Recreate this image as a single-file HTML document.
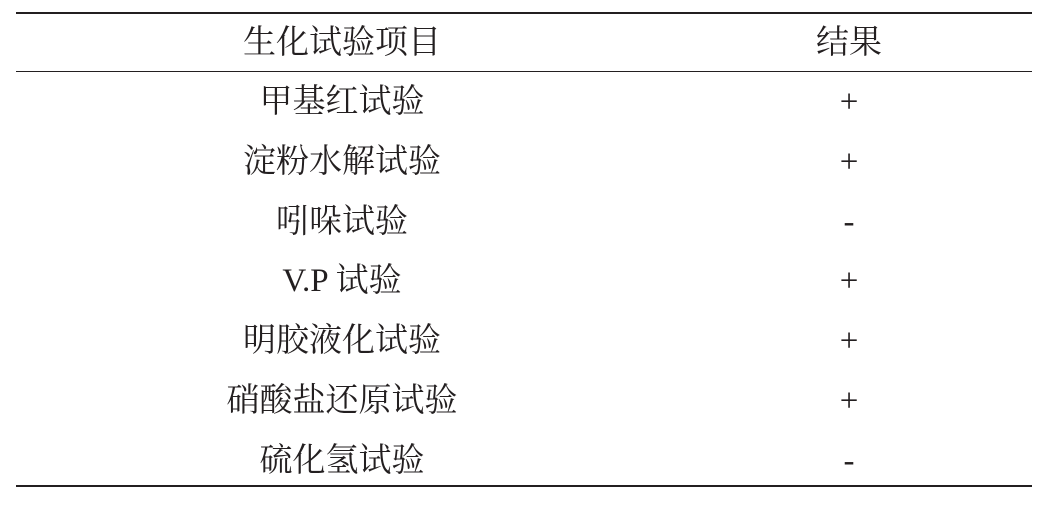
<!DOCTYPE html>
<html><head><meta charset="utf-8"><style>
html,body{margin:0;padding:0;background:#fff;}
body{width:1056px;height:506px;position:relative;overflow:hidden;font-family:"Liberation Serif","Noto Serif CJK SC",serif;color:#231f20;}
.l{position:absolute;left:16px;width:1016px;background:#231f20;}
.t{position:absolute;font-size:33px;line-height:40px;height:40px;text-align:center;white-space:nowrap;}
.c1{left:142px;width:400px;}
.c2{left:749px;width:200px;}
</style></head><body>
<div class="l" style="top:12px;height:2px"></div>
<div class="l" style="top:71px;height:1px"></div>
<div class="l" style="top:485px;height:2px"></div>
<div class="t c1" style="top:23px">生化试验项目</div><div class="t c2" style="top:23px">结果</div>
<div class="t c1" style="top:82px">甲基红试验</div><div class="t c2" style="top:82px">+</div>
<div class="t c1" style="top:142px">淀粉水解试验</div><div class="t c2" style="top:142px">+</div>
<div class="t c1" style="top:202px">吲哚试验</div><div class="t c2" style="top:202px">-</div>
<div class="t c1" style="top:261px">V.P 试验</div><div class="t c2" style="top:261px">+</div>
<div class="t c1" style="top:321px">明胶液化试验</div><div class="t c2" style="top:321px">+</div>
<div class="t c1" style="top:381px">硝酸盐还原试验</div><div class="t c2" style="top:381px">+</div>
<div class="t c1" style="top:441px">硫化氢试验</div><div class="t c2" style="top:441px">-</div>
</body></html>
